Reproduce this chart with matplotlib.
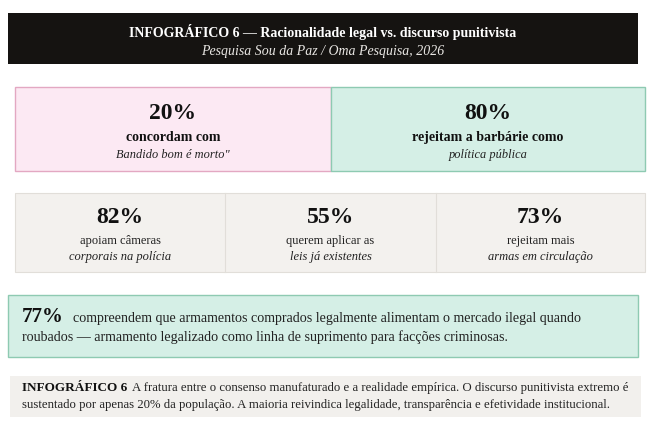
import matplotlib
matplotlib.use("Agg")
import matplotlib.pyplot as plt
from matplotlib.patches import Rectangle

# ---- data ----
title = "INFOGRÁFICO 6 — Racionalidade legal vs. discurso punitivista"
subtitle = "Pesquisa Sou da Paz / Oma Pesquisa, 2026"

pair_values = ["20%", "80%"]
pair_label1 = ["concordam com", "rejeitam a barbárie como"]
pair_label2 = ["Bandido bom é morto\"", "política pública"]

trio_values = ["82%", "55%", "73%"]
trio_label1 = ["apoiam câmeras", "querem aplicar as", "rejeitam mais"]
trio_label2 = ["corporais na polícia", "leis já existentes", "armas em circulação"]

bar_value = "77%"
bar_line1 = "compreendem que armamentos comprados legalmente alimentam o mercado ilegal quando"
bar_line2 = "roubados — armamento legalizado como linha de suprimento para facções criminosas."

foot_bold = "INFOGRÁFICO 6"
foot_line1 = "A fratura entre o consenso manufaturado e a realidade empírica. O discurso punitivista extremo é"
foot_line2 = "sustentado por apenas 20% da população. A maioria reivindica legalidade, transparência e efetividade institucional."

# ---- style ----
SERIF = "Liberation Serif"
plt.rcParams["font.family"] = [SERIF, "DejaVu Serif"]

W, H = 658, 436
fig = plt.figure(figsize=(W / 100, H / 100), dpi=100)
fig.patch.set_facecolor("white")
ax = fig.add_axes([0, 0, 1, 1])
ax.set_xlim(0, W)
ax.set_ylim(H, 0)
ax.axis("off")

def rect(x0, y0, x1, y1, fc, ec=None, lw=1.0, z=1):
    ax.add_patch(Rectangle((x0, y0), x1 - x0, y1 - y0, facecolor=fc,
                           edgecolor=ec if ec else "none", linewidth=lw, zorder=z))

# header
rect(8, 13, 638, 64, "#151311")
ax.text(323, 32, title, ha="center", va="center", color="white",
        fontsize=10, fontweight="bold")
ax.text(323, 51, subtitle, ha="center", va="center", color="#e8e6e3",
        fontsize=10, style="italic")

# pair boxes
pair_fc = ["#fce9f3", "#d5efe6"]
pair_ec = ["#e3a8c2", "#8ecab2"]
pair_x = [(15, 331), (331, 645)]
for i, (x0, x1) in enumerate(pair_x):
    rect(x0, 87, x1, 171, pair_fc[i], pair_ec[i], lw=1.0, z=1 + i)
    cx = (x0 + x1) / 2
    ax.text(cx, 113, pair_values[i], ha="center", va="center",
            fontsize=17, fontweight="bold", color="#111111", zorder=5)
    ax.text(cx, 137, pair_label1[i], ha="center", va="center",
            fontsize=10, fontweight="bold", color="#111111", zorder=5)
    ax.text(cx, 155, pair_label2[i], ha="center", va="center",
            fontsize=8.9, style="italic", color="#222222", zorder=5)

# trio box
rect(15, 193, 645, 272, "#f3f1ee", "#e1ded9", lw=0.8)
tx = [15, 225, 436, 645]
for i in range(3):
    if i > 0:
        ax.plot([tx[i], tx[i]], [193, 272], color="#e1ded9", lw=0.8, zorder=3)
    cx = (tx[i] + tx[i + 1]) / 2
    ax.text(cx, 217, trio_values[i], ha="center", va="center",
            fontsize=17, fontweight="bold", color="#111111", zorder=5)
    ax.text(cx, 241, trio_label1[i], ha="center", va="center",
            fontsize=9, color="#222222", zorder=5)
    ax.text(cx, 257, trio_label2[i], ha="center", va="center",
            fontsize=9, style="italic", color="#222222", zorder=5)

# insight bar
rect(8, 295, 638, 357, "#d5efe6", "#8ecab2", lw=1.0)
fig.canvas.draw()
renderer = fig.canvas.get_renderer()
t77 = ax.text(22, 322, bar_value, ha="left", va="baseline",
              fontsize=15, fontweight="bold", color="#111111", zorder=5)
bb = t77.get_window_extent(renderer=renderer)
x_after = ax.transData.inverted().transform((bb.x1, bb.y0))[0]
ax.text(x_after + 9, 322, bar_line1, ha="left", va="baseline",
        fontsize=10.1, color="#222222", zorder=5)
ax.text(22, 341, bar_line2, ha="left", va="baseline",
        fontsize=10.1, color="#222222", zorder=5)

# footer
rect(10, 376, 641, 417, "#f2f0ed")
tb = ax.text(22, 391, foot_bold, ha="left", va="baseline",
             fontsize=9.5, fontweight="bold", color="#111111", zorder=5)
bb = tb.get_window_extent(renderer=renderer)
x_after = ax.transData.inverted().transform((bb.x1, bb.y0))[0]
ax.text(x_after + 5, 391, foot_line1, ha="left", va="baseline",
        fontsize=9.2, color="#222222", zorder=5)
ax.text(22, 408, foot_line2, ha="left", va="baseline",
        fontsize=9.2, color="#222222", zorder=5)

fig.savefig("out.png", dpi=100, facecolor="white")
